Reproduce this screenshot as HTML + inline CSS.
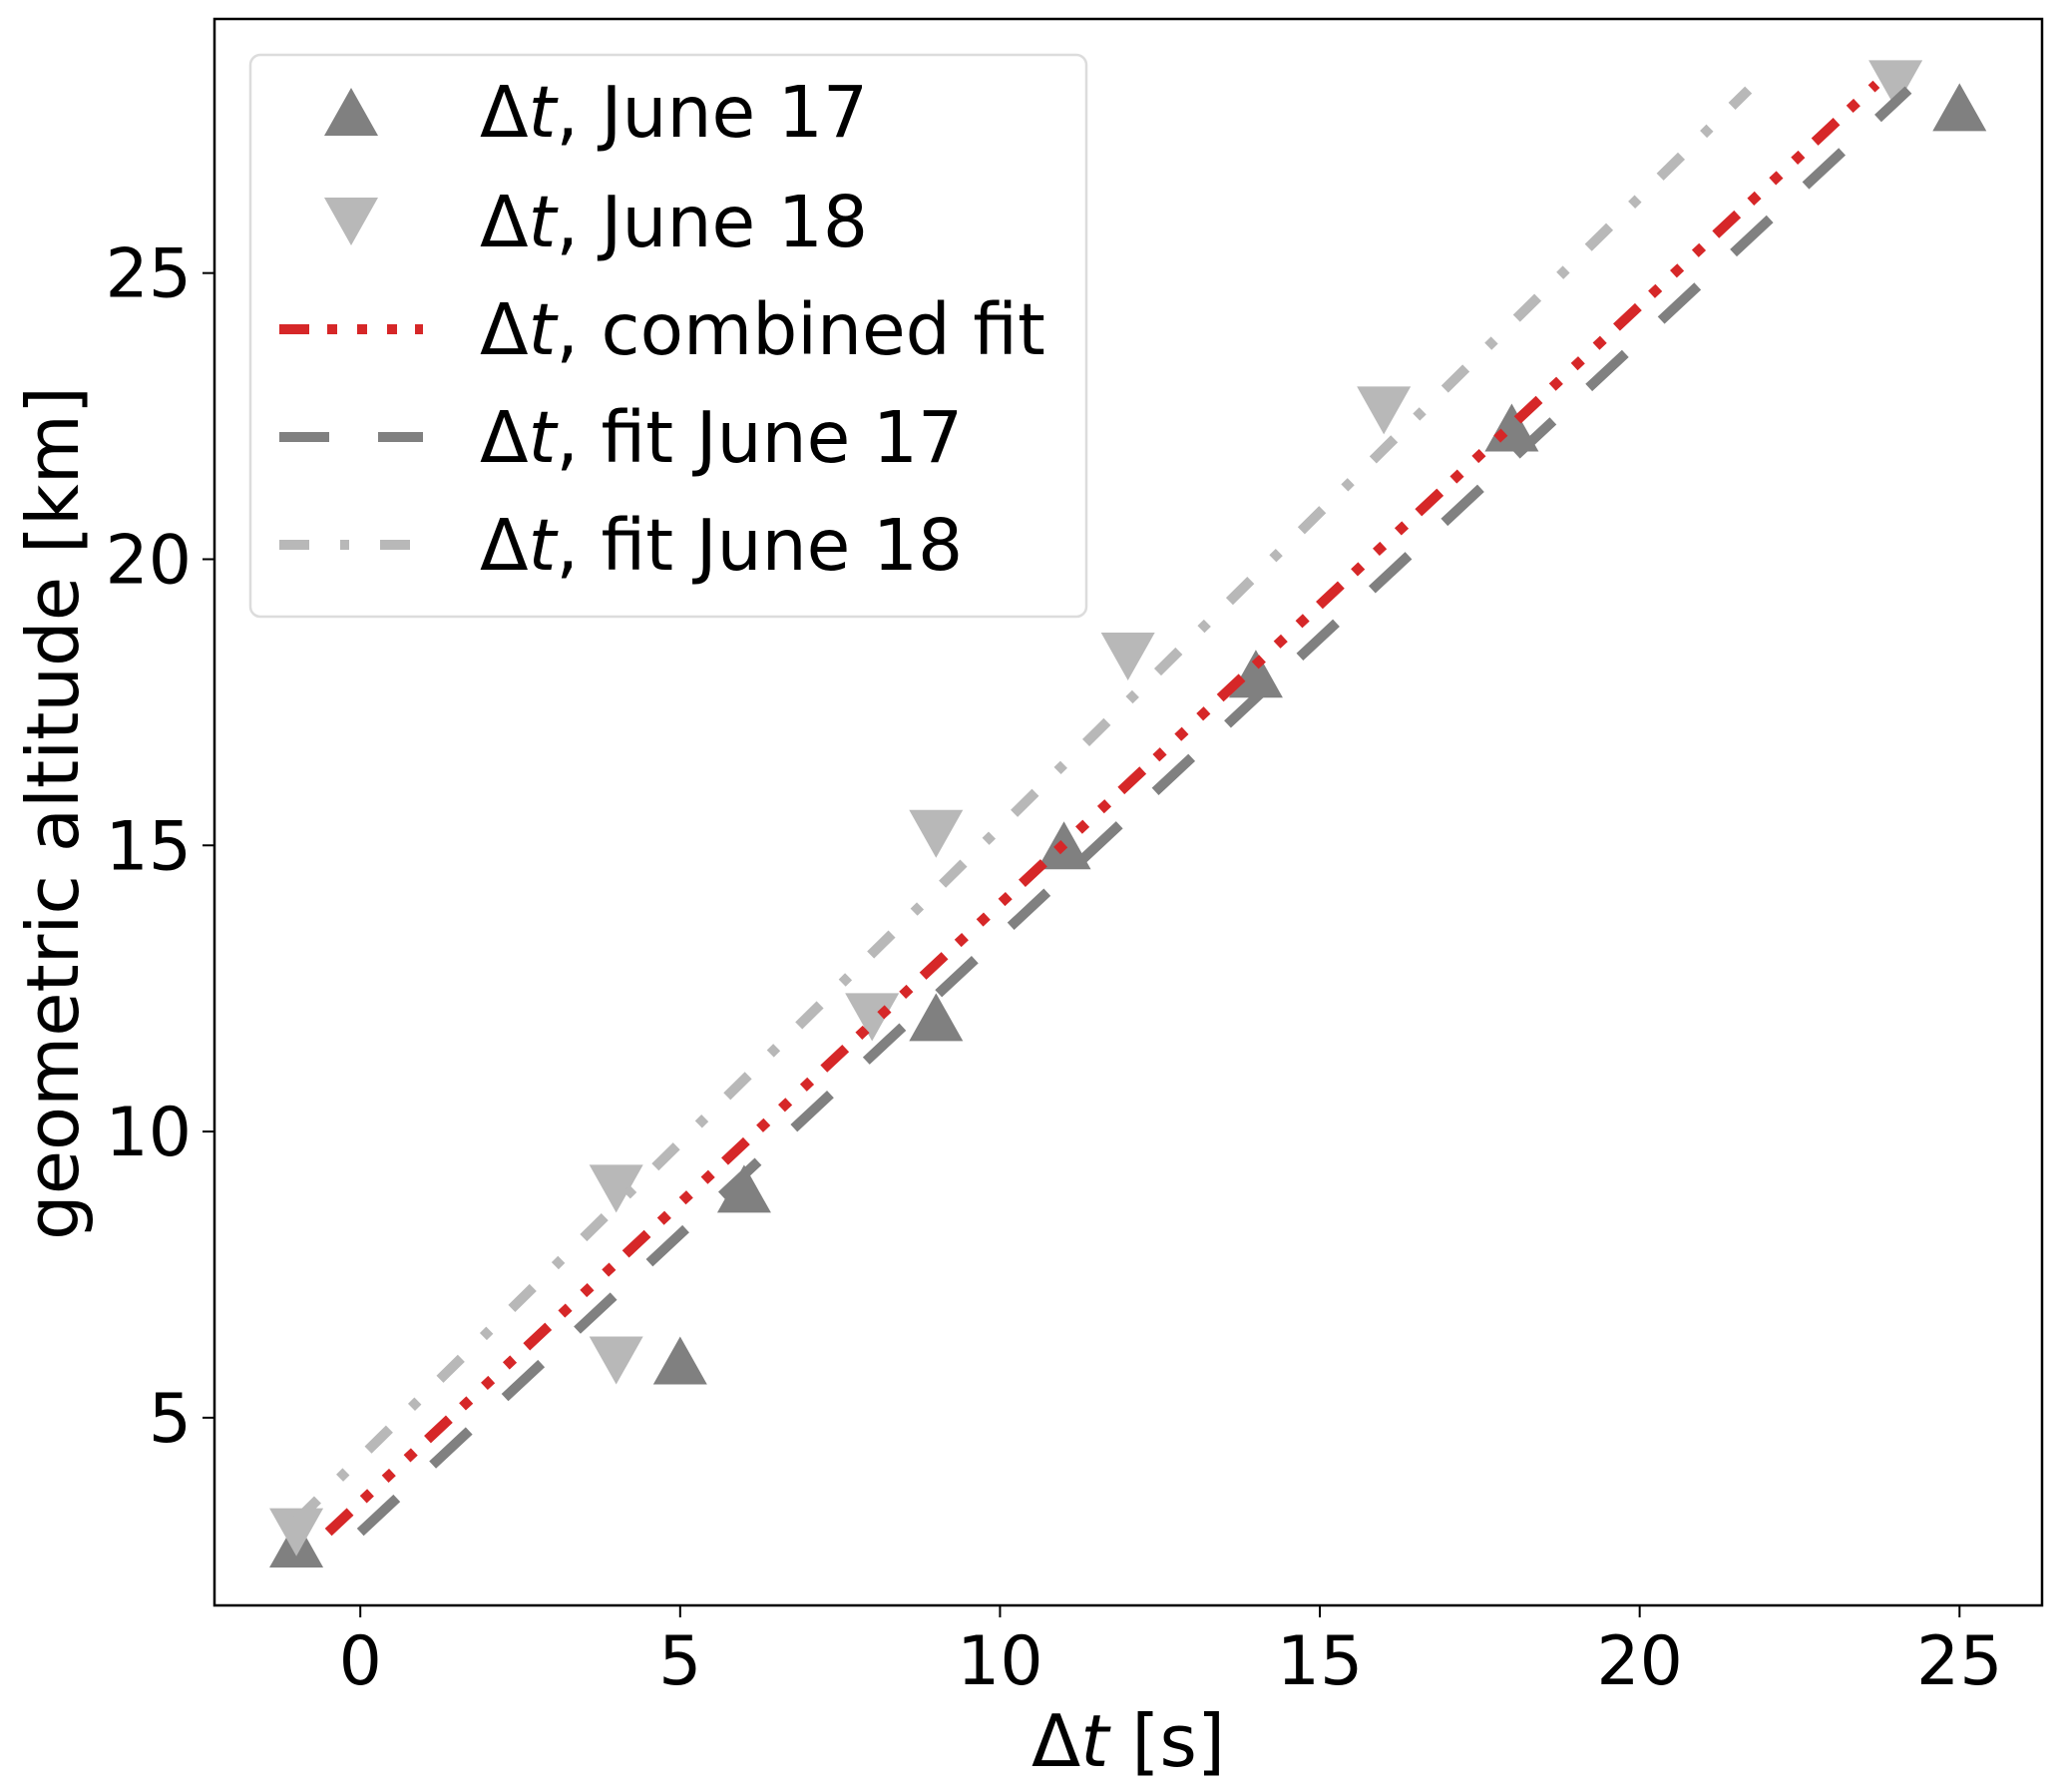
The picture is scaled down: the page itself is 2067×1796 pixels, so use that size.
<!DOCTYPE html>
<html><head><meta charset="utf-8"><style>
body{margin:0;background:#fff}
svg{display:block;font-family:"DejaVu Sans","Liberation Sans",sans-serif}
</style></head><body>
<svg id="chart" width="2067" height="1796" viewBox="0 0 2067 1796">
<g id="marks"></g>
<g id="axes"></g>
<g id="legend"></g>
</svg>
<script>
const xTicks=[0,5,10,15,20,25];
const yTicks=[5,10,15,20,25];
const j17x=[-1,5,6,9,11,14,18,25];
const j17y=[2.8,6,9,12,15,18,22.3,27.9];
const j18x=[-1,4,4,8,9,12,16,24];
const j18y=[3,6,9,12,15.2,18.3,22.6,28.3];
const fitCombX=[-0.5,23.7];
const fitCombY=[3.0,28.3];
const fit17X=[0,24.2];
const fit17Y=[3.0,28.2];
const fit18X=[-1,21.7];
const fit18Y=[3.2,28.2];
const legendLabels=["June 17","June 18","combined fit","fit June 17","fit June 18"];

const NS="http://www.w3.org/2000/svg";
const L=215,R=2047,T=19,B=1609;
const X0=-2.28,X1=26.29,Y0=1.72,Y1=29.44;
const sx=v=>L+(v-X0)/(X1-X0)*(R-L);
const sy=v=>B-(v-Y0)/(Y1-Y0)*(B-T);
const DASH_C='30,18,10,20,10,20,10,18', DASH_17='50,49', DASH_18='30,31,9,31';
function mk(tag,attrs,parent){const e=document.createElementNS(NS,tag);for(const k in attrs)e.setAttribute(k,attrs[k]);parent.appendChild(e);return e;}
const marks=document.getElementById('marks'),axes=document.getElementById('axes'),leg=document.getElementById('legend');

function tri(cx,cy,up,col,parent){const h=24,w=27;
 const pts=up?`${cx},${cy-h} ${cx-w},${cy+h} ${cx+w},${cy+h}`:`${cx},${cy+h} ${cx-w},${cy-h} ${cx+w},${cy-h}`;
 return mk('polygon',{points:pts,fill:col},parent);}
function line(xs,ys,col,dash,name){const e=mk('line',{x1:sx(xs[0]),y1:sy(ys[0]),x2:sx(xs[1]),y2:sy(ys[1]),stroke:col,'stroke-width':10,'stroke-dasharray':dash},marks);
 
 }

j17x.forEach((x,i)=>{const p=tri(sx(x),sy(j17y[i]),true,'#808080',marks);
 
 });
j18x.forEach((x,i)=>{const p=tri(sx(x),sy(j18y[i]),false,'#b8b8b8',marks);
 
 });
line(fit18X,fit18Y,'#b8b8b8',DASH_18,'fit-june18-line');
line(fitCombX,fitCombY,'#d62728',DASH_C,'combined-fit-line');
line(fit17X,fit17Y,'#808080',DASH_17,'fit-june17-line');

const frame=mk('rect',{x:L,y:T,width:R-L,height:B-T,fill:'none',stroke:'#000','stroke-width':2.5},axes);


xTicks.forEach(v=>{const x=sx(v);mk('line',{x1:x,y1:B,x2:x,y2:B+12,stroke:'#000','stroke-width':2},axes);
 const t=mk('text',{x:x,y:1688,'font-size':68,'text-anchor':'middle'},axes);t.textContent=v;
 
 });
yTicks.forEach(v=>{const y=sy(v);mk('line',{x1:L,y1:y,x2:L-12,y2:y,stroke:'#000','stroke-width':2},axes);
 const t=mk('text',{x:192,y:y+24,'font-size':68,'text-anchor':'end'},axes);t.textContent=v;
 
 });
const xl=mk('text',{x:1131,y:1770,'font-size':72,'text-anchor':'middle'},axes);
xl.innerHTML='Δ<tspan font-style="italic">t</tspan> [s]';


const yl=mk('text',{x:0,y:0,'font-size':72,'text-anchor':'middle',transform:'translate(78,815) rotate(-90)'},axes);
yl.textContent='geometric altitude [km]';



const box=mk('rect',{x:251,y:55,width:838,height:563,rx:10,fill:'#fff','fill-opacity':0.8,stroke:'#dcdcdc','stroke-width':2.5},leg);


const rowY=[112,222,330,438,546];
legendLabels.forEach((lab,i)=>{const y=rowY[i];
 if(i==0)tri(352,y,true,'#808080',leg);
 else if(i==1)tri(352,y,false,'#b8b8b8',leg);
 else{const c=['#d62728','#808080','#b8b8b8'][i-2],d=[DASH_C,DASH_17,DASH_18][i-2];
  mk('line',{x1:280,y1:y,x2:424,y2:y,stroke:c,'stroke-width':10,'stroke-dasharray':d},leg);}
 const t=mk('text',{x:481,y:y+25,'font-size':71},leg);
 t.innerHTML='Δ<tspan font-style="italic">t</tspan>, '+lab;
 
 });
</script>
</body></html>
